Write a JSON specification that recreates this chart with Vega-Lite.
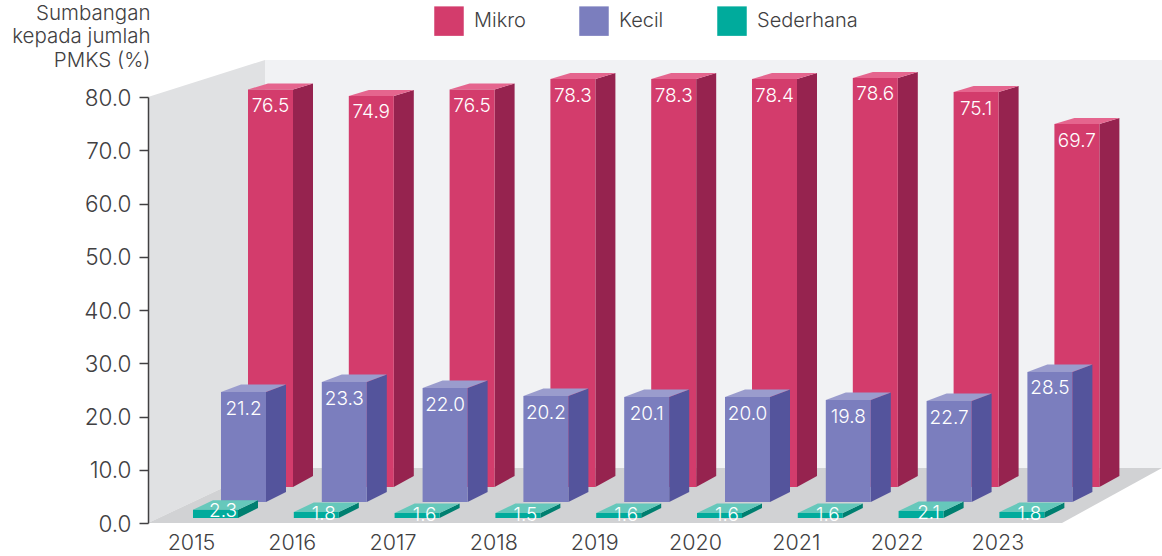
{
"$schema":"https://vega.github.io/schema/vega-lite/v6.json",
"width":1014,"height":426,
"autosize":{"type":"none"},
"padding":{"left":148,"top":97,"right":0,"bottom":33},
"background":"white",
"config":{"view":{"stroke":null},"font":"Inter","text":{"font":"Inter"}},
"datasets":{
"walls":[
{"tone":"back","c":0,"px":2015.7341,"py":86.95},{"tone":"back","c":1,"px":2024.6329,"py":86.95},{"tone":"back","c":2,"px":2024.6329,"py":10.33},{"tone":"back","c":3,"px":2015.7341,"py":10.33},
{"tone":"left","c":0,"px":2014.5734,"py":80},{"tone":"left","c":1,"px":2015.7341,"py":86.95},{"tone":"left","c":2,"px":2015.7341,"py":10.33},{"tone":"left","c":3,"px":2014.5734,"py":0},
{"tone":"floor","c":0,"px":2014.5734,"py":0},{"tone":"floor","c":1,"px":2015.7341,"py":10.33},{"tone":"floor","c":2,"px":2024.6329,"py":10.33},{"tone":"floor","c":3,"px":2023.6409,"py":0}
],
"bars":[
{"year":2015,"series":"Mikro","value":76.5,"top":81.41},{"year":2016,"series":"Mikro","value":74.9,"top":80.19},{"year":2017,"series":"Mikro","value":76.5,"top":81.41},{"year":2018,"series":"Mikro","value":78.3,"top":83.38},{"year":2019,"series":"Mikro","value":78.3,"top":83.38},{"year":2020,"series":"Mikro","value":78.4,"top":83.38},{"year":2021,"series":"Mikro","value":78.6,"top":83.57},{"year":2022,"series":"Mikro","value":75.1,"top":80.94},{"year":2023,"series":"Mikro","value":69.7,"top":74.93},
{"year":2015,"series":"Kecil","value":21.2,"top":24.6},{"year":2016,"series":"Kecil","value":23.3,"top":26.48},{"year":2017,"series":"Kecil","value":22.0,"top":25.35},{"year":2018,"series":"Kecil","value":20.2,"top":23.85},{"year":2019,"series":"Kecil","value":20.1,"top":23.66},{"year":2020,"series":"Kecil","value":20.0,"top":23.66},{"year":2021,"series":"Kecil","value":19.8,"top":23.1},{"year":2022,"series":"Kecil","value":22.7,"top":22.91},{"year":2023,"series":"Kecil","value":28.5,"top":28.36},
{"year":2015,"series":"Sederhana","value":2.3,"top":2.5},{"year":2016,"series":"Sederhana","value":1.8,"top":2.07},{"year":2017,"series":"Sederhana","value":1.6,"top":1.88},{"year":2018,"series":"Sederhana","value":1.5,"top":1.88},{"year":2019,"series":"Sederhana","value":1.6,"top":1.88},{"year":2020,"series":"Sederhana","value":1.6,"top":1.88},{"year":2021,"series":"Sederhana","value":1.6,"top":1.88},{"year":2022,"series":"Sederhana","value":2.1,"top":2.25},{"year":2023,"series":"Sederhana","value":1.8,"top":2.07}
]},
"encoding":{
"x":{"field":"px","type":"quantitative","scale":{"domain":[2014.5734,2024.6329],"nice":false,"zero":false},
"axis":{"values":[2015,2016,2017,2018,2019,2020,2021,2022,2023],"format":"d","title":null,"domain":false,"ticks":false,"grid":false,"labelFontSize":21.5,"labelColor":"#414042","labelPadding":9,"labelFont":"Inter","labelFontWeight":300}},
"y":{"field":"py","type":"quantitative","scale":{"domain":[0,80],"nice":false,"zero":false},
"axis":{"values":[0,10,20,30,40,50,60,70,80],"format":".1f","grid":false,"zindex":1,"title":["Sumbangan","kepada jumlah","PMKS (%)"],"titleAngle":0,"titleAlign":"right","titleBaseline":"top","titleX":2,"titleY":-94,"titleFontSize":20.5,"titleLineHeight":23.5,"titleFontWeight":300,"titleFont":"Inter","titleColor":"#414042","labelFontSize":22.5,"labelColor":"#414042","labelFont":"Inter","labelFontWeight":300,"labelPadding":8,"labelOffset":1,"tickSize":9,"tickColor":"#414042","tickWidth":1.5,"domainColor":"#414042","domainWidth":1.5}}
},
"layer":[
{"data":{"name":"walls"},"mark":{"type":"line","filled":true,"interpolate":"linear"},
"encoding":{"order":{"field":"c","type":"quantitative"},
"fill":{"field":"tone","type":"nominal","legend":null,"scale":{"domain":["back","left","floor","Mikro side","Mikro top","Kecil side","Kecil top","Sederhana side","Sederhana top"],"range":["#F1F2F4","#E0E1E3","#D1D2D4","#96234F","#E5658E","#54549C","#9A9CCD","#007F70","#66C8BB"]}}}},
{"data":{"name":"bars"},
"transform":[
{"calculate":"datum.year+(datum.series==='Mikro'?0.5655:datum.series==='Kecil'?0.2976:0.0198)","as":"left"},
{"calculate":"datum.left+0.4464","as":"right"},
{"calculate":"datum.series==='Mikro'?6.76:datum.series==='Kecil'?3.94:0.94","as":"base"},
{"calculate":"datum.series==='Mikro'?1.13:datum.series==='Kecil'?1.41:1.78","as":"dyTop"},
{"calculate":"datum.series==='Mikro'?2.07:1.88","as":"dyBase"}
],
"layer":[
{"transform":[{"filter":"datum.series==='Mikro'"}],"layer":[
{"transform":[{"calculate":"['side','top']","as":"face"},{"flatten":["face"]},{"calculate":"[0,1,2,3]","as":"c"},{"flatten":["c"]},{"calculate":"datum.series+' '+datum.face","as":"tone"},
{"calculate":"datum.face==='side'?(datum.c===0||datum.c===3?datum.right:datum.right+0.1984):(datum.c===0?datum.left:datum.c===1?datum.left+0.1984:datum.c===2?datum.right+0.1984:datum.right)","as":"px"},
{"calculate":"datum.face==='side'?(datum.c===0?datum.top:datum.c===1?datum.top+datum.dyTop:datum.c===2?datum.base+datum.dyBase:datum.base):(datum.c===0||datum.c===3?datum.top:datum.top+datum.dyTop)","as":"py"}],
"mark":{"type":"line","filled":true},
"encoding":{"order":{"field":"c","type":"quantitative"},"detail":{"field":"year"},
"fill":{"field":"tone","type":"nominal","legend":null,"scale":{"domain":["back","left","floor","Mikro side","Mikro top","Kecil side","Kecil top","Sederhana side","Sederhana top"],"range":["#F1F2F4","#E0E1E3","#D1D2D4","#96234F","#E5658E","#54549C","#9A9CCD","#007F70","#66C8BB"]}}}},
{"transform":[{"calculate":"datum.left","as":"px"},{"calculate":"datum.top","as":"py"}],"mark":{"type":"bar"},
"encoding":{"x2":{"field":"right"},"y2":{"field":"base"},
"color":{"field":"series","type":"nominal","scale":{"domain":["Mikro","Kecil","Sederhana"],"range":["#D33C6C","#7B7EBE","#00AB9C"]},
"legend":{"orient":"none","legendX":286,"legendY":-91,"direction":"horizontal","columns":3,"title":null,"symbolType":"square","symbolSize":870,"symbolStrokeWidth":0,"symbolOpacity":1,"labelFontSize":20,"labelFont":"Inter","labelFontWeight":300,"labelColor":"#414042","labelOffset":10,"columnPadding":53}}}}
]},
{"transform":[{"filter":"datum.series==='Kecil'"}],"layer":[
{"transform":[{"calculate":"['side','top']","as":"face"},{"flatten":["face"]},{"calculate":"[0,1,2,3]","as":"c"},{"flatten":["c"]},{"calculate":"datum.series+' '+datum.face","as":"tone"},
{"calculate":"datum.face==='side'?(datum.c===0||datum.c===3?datum.right:datum.right+0.1984):(datum.c===0?datum.left:datum.c===1?datum.left+0.1984:datum.c===2?datum.right+0.1984:datum.right)","as":"px"},
{"calculate":"datum.face==='side'?(datum.c===0?datum.top:datum.c===1?datum.top+datum.dyTop:datum.c===2?datum.base+datum.dyBase:datum.base):(datum.c===0||datum.c===3?datum.top:datum.top+datum.dyTop)","as":"py"}],
"mark":{"type":"line","filled":true},
"encoding":{"order":{"field":"c","type":"quantitative"},"detail":{"field":"year"},
"fill":{"field":"tone","type":"nominal","legend":null,"scale":{"domain":["back","left","floor","Mikro side","Mikro top","Kecil side","Kecil top","Sederhana side","Sederhana top"],"range":["#F1F2F4","#E0E1E3","#D1D2D4","#96234F","#E5658E","#54549C","#9A9CCD","#007F70","#66C8BB"]}}}},
{"transform":[{"calculate":"datum.left","as":"px"},{"calculate":"datum.top","as":"py"}],"mark":{"type":"bar"},
"encoding":{"x2":{"field":"right"},"y2":{"field":"base"},
"color":{"field":"series","type":"nominal","scale":{"domain":["Mikro","Kecil","Sederhana"],"range":["#D33C6C","#7B7EBE","#00AB9C"]}}}}
]},
{"transform":[{"filter":"datum.series==='Sederhana'"}],"layer":[
{"transform":[{"calculate":"['side','top']","as":"face"},{"flatten":["face"]},{"calculate":"[0,1,2,3]","as":"c"},{"flatten":["c"]},{"calculate":"datum.series+' '+datum.face","as":"tone"},
{"calculate":"datum.face==='side'?(datum.c===0||datum.c===3?datum.right:datum.right+0.1984):(datum.c===0?datum.left:datum.c===1?datum.left+0.1984:datum.c===2?datum.right+0.1984:datum.right)","as":"px"},
{"calculate":"datum.face==='side'?(datum.c===0?datum.top:datum.c===1?datum.top+datum.dyTop:datum.c===2?datum.base+datum.dyBase:datum.base):(datum.c===0||datum.c===3?datum.top:datum.top+datum.dyTop)","as":"py"}],
"mark":{"type":"line","filled":true},
"encoding":{"order":{"field":"c","type":"quantitative"},"detail":{"field":"year"},
"fill":{"field":"tone","type":"nominal","legend":null,"scale":{"domain":["back","left","floor","Mikro side","Mikro top","Kecil side","Kecil top","Sederhana side","Sederhana top"],"range":["#F1F2F4","#E0E1E3","#D1D2D4","#96234F","#E5658E","#54549C","#9A9CCD","#007F70","#66C8BB"]}}}},
{"transform":[{"calculate":"datum.left","as":"px"},{"calculate":"datum.top","as":"py"}],"mark":{"type":"bar"},
"encoding":{"x2":{"field":"right"},"y2":{"field":"base"},
"color":{"field":"series","type":"nominal","scale":{"domain":["Mikro","Kecil","Sederhana"],"range":["#D33C6C","#7B7EBE","#00AB9C"]}}}}
]},
{"transform":[
{"calculate":"datum.series==='Sederhana'?datum.left+0.2976:(datum.left+datum.right)/2","as":"px"},
{"calculate":"datum.series==='Sederhana'?datum.top-0.3:datum.top-3.1","as":"py"}],
"mark":{"type":"text","color":"white","fontSize":19,"fontWeight":300,"font":"Inter","baseline":"middle","align":"center"},
"encoding":{"text":{"field":"value","type":"quantitative","format":".1f"}}}
]}
]}
